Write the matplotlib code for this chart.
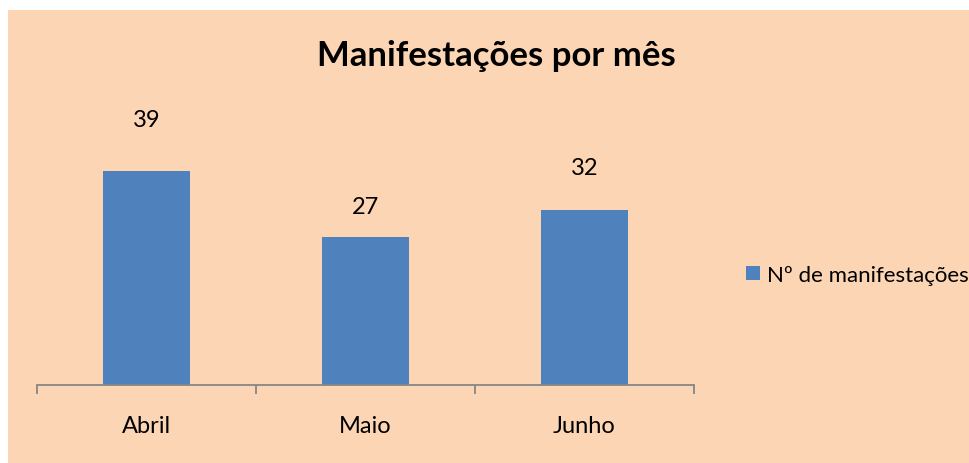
import matplotlib.pyplot as plt
from matplotlib.patches import Rectangle

months = ["Abril", "Maio", "Junho"]
counts = [39, 27, 32]
series_name = "Nº de manifestações"
title = "Manifestações por mês"

plt.rcParams["font.family"] = ["Lato", "DejaVu Sans"]

bar_color = "#4F81BD"
bg_color = "#FCD5B5"
axis_color = "#868686"

fig = plt.figure(figsize=(9.7, 4.64), dpi=100)
fig.patch.set_facecolor("white")
fig.patches.append(Rectangle((8 / 970, 0), 962 / 970, 453 / 464, transform=fig.transFigure,
                             facecolor=bg_color, edgecolor="none", zorder=-1))

ax = fig.add_axes([37 / 970, 78.5 / 464, 657 / 970, 246 / 464])
ax.set_facecolor("none")

x = range(len(months))
bars = ax.bar(x, counts, width=0.4, color=bar_color, label=series_name, zorder=2)

# label offsets above each bar (points), as placed in the original
label_offsets = [37, 22, 30]
for rect, val, off in zip(bars, counts, label_offsets):
    ax.annotate(str(val), (rect.get_x() + rect.get_width() / 2, rect.get_height()),
                xytext=(0, off), textcoords="offset points", ha="center", va="center",
                fontsize=17, color="black")

ax.set_xlim(-0.5, len(months) - 0.5)
ax.set_ylim(0, 45)
ax.set_xticks([i - 0.5 for i in range(len(months) + 1)])
ax.set_xticklabels([])
ax.set_xticks(list(x), minor=True)
ax.set_xticklabels(months, minor=True)
ax.tick_params(axis="x", which="major", length=6.5, width=1.3, color=axis_color, direction="out")
ax.tick_params(axis="x", which="minor", length=0, pad=22, labelsize=17)
ax.set_yticks([])
for s in ["top", "right", "left"]:
    ax.spines[s].set_visible(False)
ax.spines["bottom"].set_color(axis_color)
ax.spines["bottom"].set_linewidth(1.3)

fig.text(496 / 970, 1 - 56 / 464, title, ha="center", va="center", fontsize=25, fontweight="bold")

fig.legend(loc="center left", bbox_to_anchor=(735 / 970, 1 - 276 / 464), frameon=False,
           fontsize=16, handlelength=0.62, handleheight=0.62, handletextpad=0.3, borderpad=0)

fig.savefig("out.png", dpi=100, facecolor=fig.get_facecolor())
